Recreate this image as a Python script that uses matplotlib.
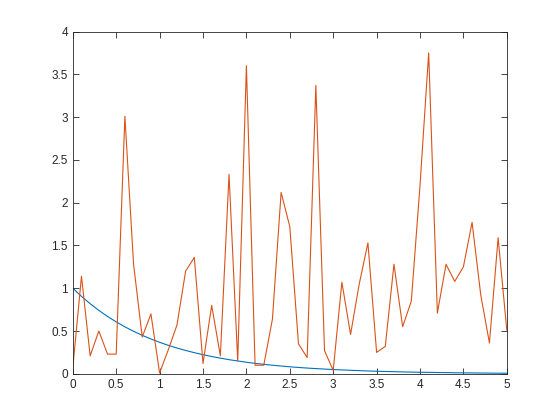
import matplotlib
matplotlib.use("Agg")
import matplotlib.pyplot as plt
from matplotlib.ticker import FuncFormatter

# x grid (step 0.1 from 0 to 5)
x_vals = [0.0, 0.1, 0.2, 0.3, 0.4, 0.5, 0.6, 0.7, 0.8, 0.9,
          1.0, 1.1, 1.2, 1.3, 1.4, 1.5, 1.6, 1.7, 1.8, 1.9,
          2.0, 2.1, 2.2, 2.3, 2.4, 2.5, 2.6, 2.7, 2.8, 2.9,
          3.0, 3.1, 3.2, 3.3, 3.4, 3.5, 3.6, 3.7, 3.8, 3.9,
          4.0, 4.1, 4.2, 4.3, 4.4, 4.5, 4.6, 4.7, 4.8, 4.9, 5.0]

# smooth decaying curve (blue)
decay_vals = [1.000, 0.905, 0.819, 0.741, 0.670, 0.607, 0.549, 0.497, 0.449, 0.407,
              0.368, 0.333, 0.301, 0.273, 0.247, 0.223, 0.202, 0.183, 0.165, 0.150,
              0.135, 0.122, 0.111, 0.100, 0.091, 0.082, 0.074, 0.067, 0.061, 0.055,
              0.050, 0.045, 0.041, 0.037, 0.033, 0.030, 0.027, 0.025, 0.022, 0.020,
              0.018, 0.017, 0.015, 0.014, 0.012, 0.011, 0.010, 0.009, 0.008, 0.007, 0.007]

# noisy series (orange)
noisy_vals = [0.07, 1.14, 0.21, 0.50, 0.23, 0.23, 3.01, 1.28, 0.43, 0.70,
              0.01, 0.28, 0.57, 1.20, 1.36, 0.12, 0.80, 0.21, 2.33, 0.15,
              3.60, 0.10, 0.10, 0.64, 2.12, 1.72, 0.35, 0.19, 3.37, 0.27,
              0.04, 1.07, 0.46, 1.05, 1.53, 0.25, 0.32, 1.28, 0.55, 0.85,
              2.20, 3.75, 0.71, 1.28, 1.08, 1.25, 1.77, 0.92, 0.36, 1.59, 0.51]

x_ticks = [0, 0.5, 1, 1.5, 2, 2.5, 3, 3.5, 4, 4.5, 5]
y_ticks = [0, 0.5, 1, 1.5, 2, 2.5, 3, 3.5, 4]

plt.rcParams['font.family'] = ['Liberation Sans', 'DejaVu Sans']

fig = plt.figure(figsize=(5.6, 4.2), dpi=100)
ax = fig.add_axes([0.13, 0.11, 0.775, 0.815])

ax.plot(x_vals, decay_vals, color='#0072BD', linewidth=0.8)
ax.plot(x_vals, noisy_vals, color='#D95319', linewidth=0.8)

ax.set_xlim(0, 5)
ax.set_ylim(0, 4)
ax.set_xticks(x_ticks)
ax.set_yticks(y_ticks)
fmt = FuncFormatter(lambda v, p: ('%g' % v))
ax.xaxis.set_major_formatter(fmt)
ax.yaxis.set_major_formatter(fmt)

ax.tick_params(direction='in', top=True, right=True, length=4, width=0.6,
               labelsize=8.5, colors='#262626')
for sp in ax.spines.values():
    sp.set_color('#262626')
    sp.set_linewidth(0.6)

fig.savefig('out.png', dpi=100)
